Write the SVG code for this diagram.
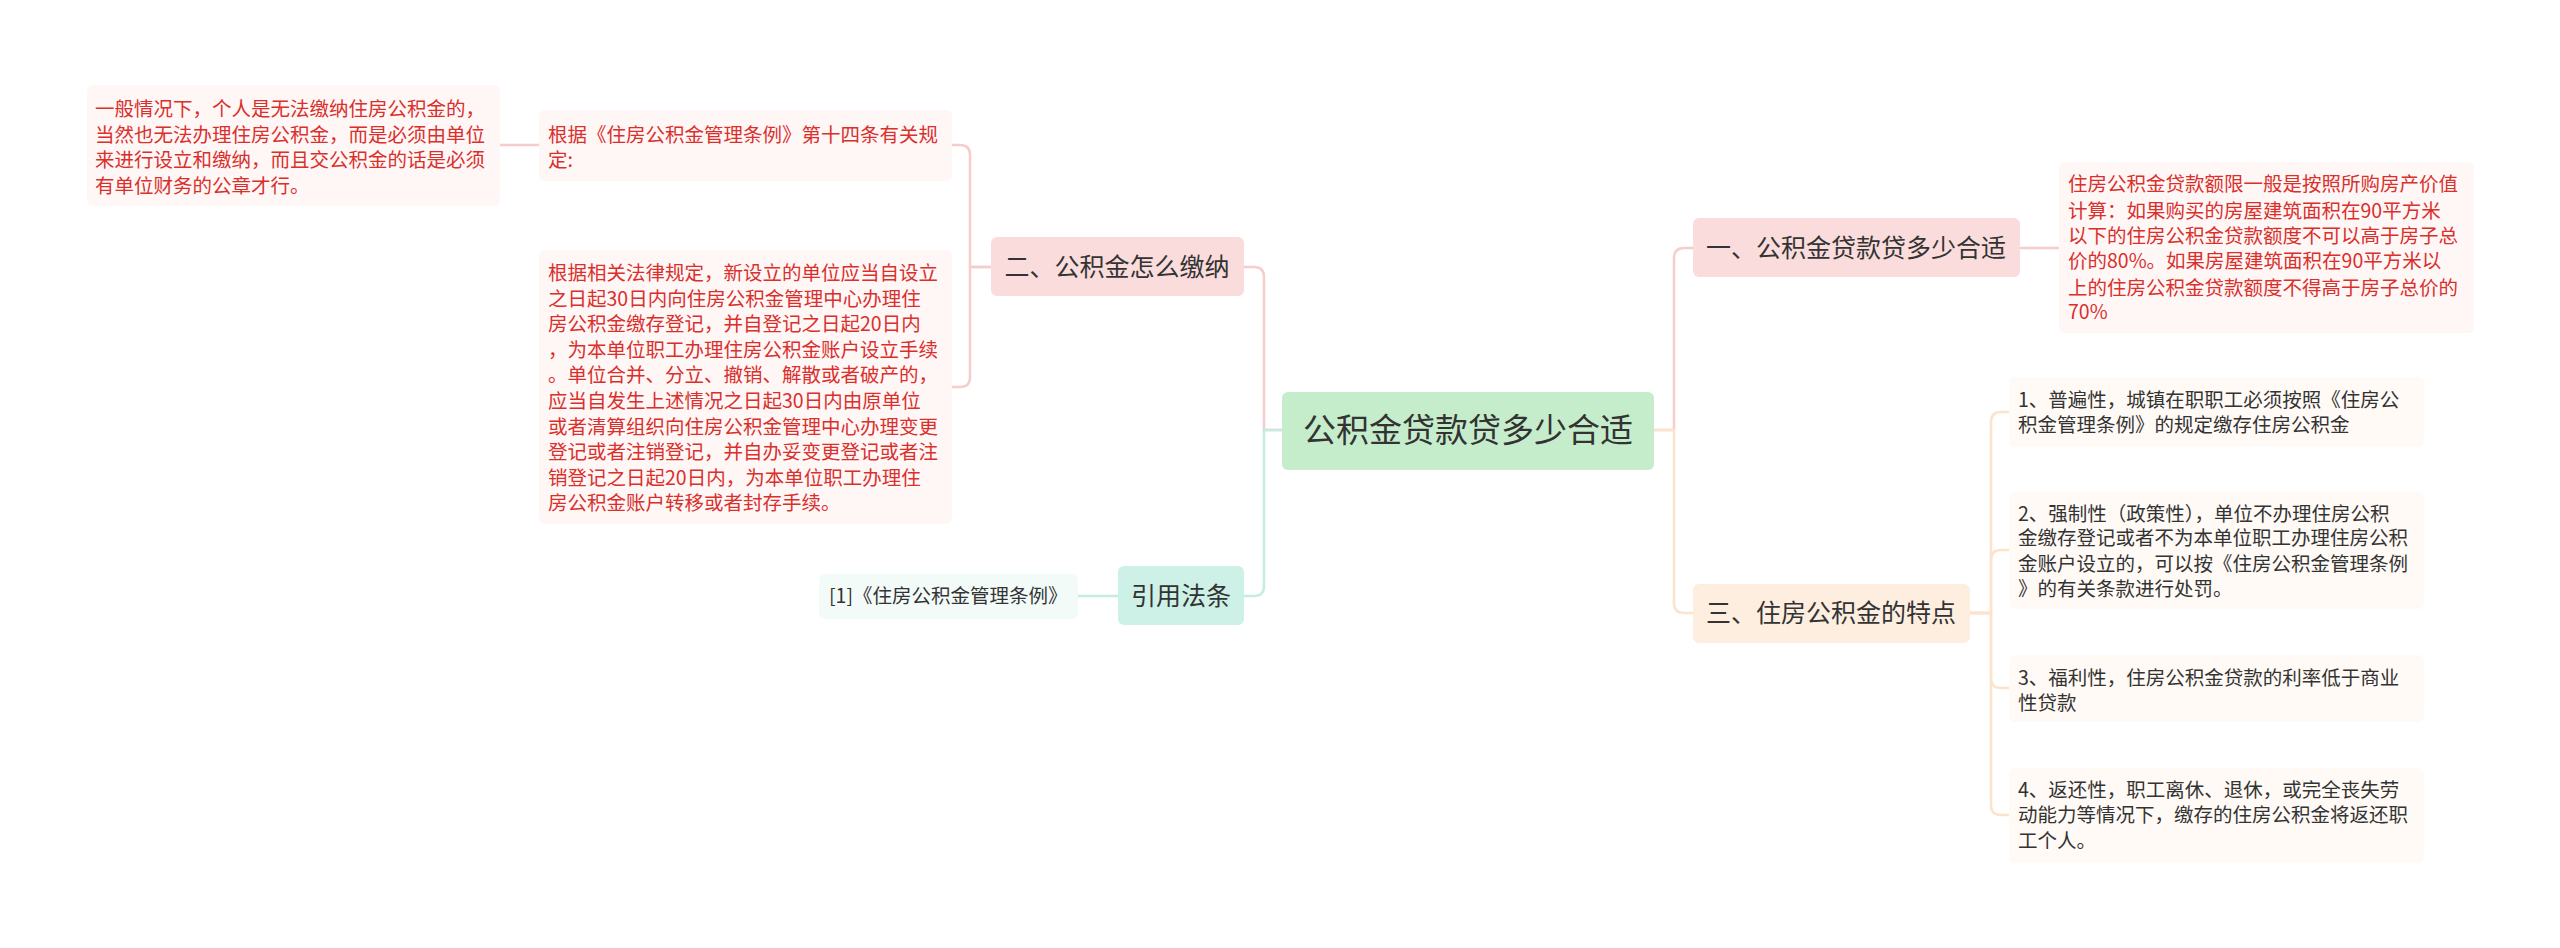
<svg xmlns="http://www.w3.org/2000/svg" width="2560" height="948" viewBox="0 0 2560 948">
<style>
text{font-family:"Noto Sans CJK SC","Noto Sans",sans-serif}
.leaf{font-size:19.5px;fill:#d9302c}
.item{font-size:19.5px;fill:#333}
.t2{font-size:25px;fill:#333}
.c{fill:none;stroke-width:2.5}
.pk{stroke:#f7cccc}.pc{stroke:#fbe3cc}.tl{stroke:#c4ece2}
</style>
<rect width="2560" height="948" fill="#fff"/>
<g id="connectors">
<path class="c pk" d="M1282 430 H1264 V277 Q1264 267 1254 267 H1244"/>
<path class="c tl" d="M1282 430 H1264 V586 Q1264 596 1254 596 H1244"/>
<path class="c pk" d="M1654 430 H1674 V258 Q1674 248 1684 248 H1693"/>
<path class="c pc" d="M1654 430 H1674 V603 Q1674 613 1684 613 H1693"/>
<path class="c pk" d="M991 267 H970 V155 Q970 145 960 145 H952"/>
<path class="c pk" d="M991 267 H970 V377 Q970 387 960 387 H952"/>
<path class="c pk" d="M539 145 H500"/>
<path class="c pk" d="M2020 248 H2059"/>
<path class="c tl" d="M1118 596 H1078"/>
<path class="c pc" d="M1970 613 H1991 V422 Q1991 412 2001 412 H2009"/>
<path class="c pc" d="M1970 613 H1991 V560 Q1991 550 2001 550 H2009"/>
<path class="c pc" d="M1970 613 H1991 V678 Q1991 688 2001 688 H2009"/>
<path class="c pc" d="M1970 613 H1991 V805 Q1991 815 2001 815 H2009"/>
</g>
<g id="center"><rect x="1282" y="392" width="372" height="78" rx="6" fill="#c6edcb"/><text x="1468" y="442" text-anchor="middle" font-size="33" fill="#333">公积金贷款贷多少合适</text></g>
<g id="n2"><rect x="991" y="237" width="253" height="59" rx="6" fill="#fbdcdc"/><text x="1117" y="276" text-anchor="middle" class="t2">二、公积金怎么缴纳</text></g>
<g id="nref"><rect x="1118" y="566" width="126" height="59" rx="6" fill="#cdf0e7"/><text x="1181" y="605" text-anchor="middle" class="t2">引用法条</text></g>
<g id="n1"><rect x="1693" y="218" width="327" height="59" rx="6" fill="#fbdcdc"/><text x="1856" y="257" text-anchor="middle" class="t2">一、公积金贷款贷多少合适</text></g>
<g id="n3"><rect x="1693" y="584" width="277" height="59" rx="6" fill="#fdeee0"/><text x="1831" y="622" text-anchor="middle" class="t2">三、住房公积金的特点</text></g>
<g id="leafA"><rect x="87" y="85" width="413" height="121" rx="6" fill="#fff6f6"/>
<text class="leaf" x="95"><tspan x="95" y="116">一般情况下，个人是无法缴纳住房公积金的，</tspan><tspan x="95" y="142">当然也无法办理住房公积金，而是必须由单位</tspan><tspan x="95" y="167">来进行设立和缴纳，而且交公积金的话是必须</tspan><tspan x="95" y="193">有单位财务的公章才行。</tspan></text></g>
<g id="leafB"><rect x="539" y="110" width="413" height="71" rx="6" fill="#fff6f6"/>
<text class="leaf"><tspan x="548" y="142">根据《住房公积金管理条例》第十四条有关规</tspan><tspan x="548" y="167">定:</tspan></text></g>
<g id="leafC"><rect x="539" y="250" width="413" height="274" rx="6" fill="#fff6f6"/>
<text class="leaf"><tspan x="548" y="280">根据相关法律规定，新设立的单位应当自设立</tspan><tspan x="548" y="306">之日起30日内向住房公积金管理中心办理住</tspan><tspan x="548" y="331">房公积金缴存登记，并自登记之日起20日内</tspan><tspan x="548" y="357">，为本单位职工办理住房公积金账户设立手续</tspan><tspan x="548" y="382">。单位合并、分立、撤销、解散或者破产的，</tspan><tspan x="548" y="408">应当自发生上述情况之日起30日内由原单位</tspan><tspan x="548" y="434">或者清算组织向住房公积金管理中心办理变更</tspan><tspan x="548" y="459">登记或者注销登记，并自办妥变更登记或者注</tspan><tspan x="548" y="485">销登记之日起20日内，为本单位职工办理住</tspan><tspan x="548" y="510">房公积金账户转移或者封存手续。</tspan></text></g>
<g id="leafRef"><rect x="819" y="574" width="259" height="45" rx="6" fill="#f3fbf9"/><text class="item" x="829" y="603">[1]《住房公积金管理条例》</text></g>
<g id="leaf1"><rect x="2059" y="162" width="415" height="171" rx="6" fill="#fff6f6"/>
<text class="leaf"><tspan x="2068" y="191">住房公积金贷款额限一般是按照所购房产价值</tspan><tspan x="2068" y="218">计算：如果购买的房屋建筑面积在90平方米</tspan><tspan x="2068" y="243">以下的住房公积金贷款额度不可以高于房子总</tspan><tspan x="2068" y="268">价的80%。如果房屋建筑面积在90平方米以</tspan><tspan x="2068" y="295">上的住房公积金贷款额度不得高于房子总价的</tspan><tspan x="2068" y="319">70%</tspan></text></g>
<g id="item1"><rect x="2009" y="377" width="415" height="70" rx="6" fill="#fffaf5"/>
<text class="item"><tspan x="2018" y="407">1、普遍性，城镇在职职工必须按照《住房公</tspan><tspan x="2018" y="432">积金管理条例》的规定缴存住房公积金</tspan></text></g>
<g id="item2"><rect x="2009" y="492" width="415" height="117" rx="6" fill="#fffaf5"/>
<text class="item"><tspan x="2018" y="521">2、强制性（政策性），单位不办理住房公积</tspan><tspan x="2018" y="545">金缴存登记或者不为本单位职工办理住房公积</tspan><tspan x="2018" y="571">金账户设立的，可以按《住房公积金管理条例</tspan><tspan x="2018" y="596">》的有关条款进行处罚。</tspan></text></g>
<g id="item3"><rect x="2009" y="655" width="415" height="67" rx="6" fill="#fffaf5"/>
<text class="item"><tspan x="2018" y="685">3、福利性，住房公积金贷款的利率低于商业</tspan><tspan x="2018" y="710">性贷款</tspan></text></g>
<g id="item4"><rect x="2009" y="768" width="415" height="95" rx="6" fill="#fffaf5"/>
<text class="item"><tspan x="2018" y="797">4、返还性，职工离休、退休，或完全丧失劳</tspan><tspan x="2018" y="822">动能力等情况下，缴存的住房公积金将返还职</tspan><tspan x="2018" y="848">工个人。</tspan></text></g>
</svg>
